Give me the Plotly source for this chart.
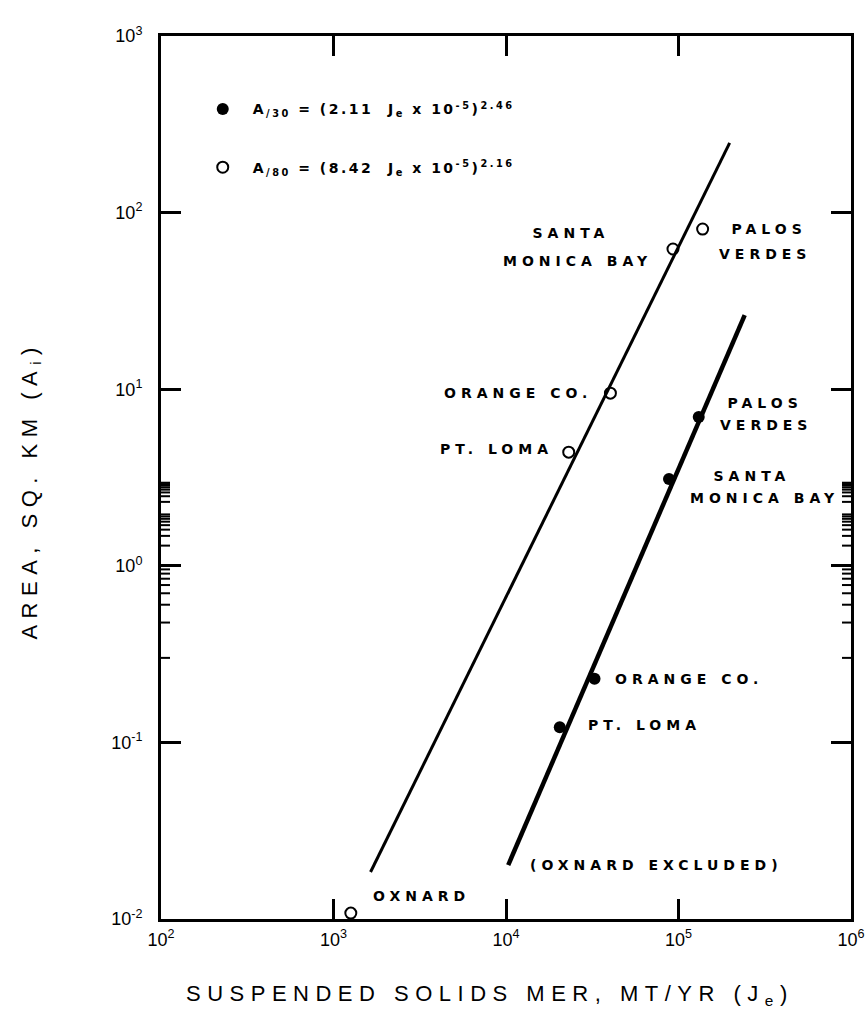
import math
import plotly.graph_objects as go

# ---------------- data ----------------
sites = ["PT. LOMA", "ORANGE CO.", "SANTA MONICA BAY", "PALOS VERDES"]
je_open = [2.31e4, 4.03e4, 9.29e4, 1.38e5]          # open circles (A/80)
area_open = [4.40, 9.5, 62.2, 80.7]
je_filled = [2.05e4, 3.26e4, 8.81e4, 1.31e5]        # filled circles (A/30)
area_filled = [0.122, 0.229, 3.10, 6.96]
oxnard_je = [1.26e3]
oxnard_area = [0.0108]
fit_open_je = [1.64e3, 1.98e5]
fit_open_area = [0.01845, 248.0]
fit_filled_je = [1.03e4, 2.42e5]
fit_filled_area = [0.0202, 26.3]

x_tickvals = [1e2, 1e3, 1e4, 1e5, 1e6]
x_ticktext = ["10<sup>2</sup>", "10<sup>3</sup>", "10<sup>4</sup>", "10<sup>5</sup>", "10<sup>6</sup>"]
y_tickvals = [1e-2, 1e-1, 1e0, 1e1, 1e2, 1e3]
y_ticktext = ["10<sup>-2</sup>", "10<sup>-1</sup>", "10<sup>0</sup>", "10<sup>1</sup>",
              "10<sup>2</sup>", "10<sup>3</sup>"]
x_minor = [k * 10 ** e for e in range(2, 6) for k in range(2, 10)]
y_minor = [k * 10.0 ** e for e in range(-2, 3) for k in range(2, 10)]

legend_filled = "A<sub>/30</sub> = (2.11  J<sub>e</sub> x 10<sup>-5</sup>)<sup>2.46</sup>"
legend_open = "A<sub>/80</sub> = (8.42  J<sub>e</sub> x 10<sup>-5</sup>)<sup>2.16</sup>"
x_title = "SUSPENDED SOLIDS MER, MT/YR (J<sub>e</sub>)"
y_title = "AREA, SQ. KM (A<sub>i</sub>)"

LABEL_FONT = dict(family="DejaVu Sans", size=14, color="black", weight="bold")
TITLE_FONT = dict(family="Liberation Sans", size=22, color="black")

W, H = 866, 1029
M = dict(l=161, r=15, t=36, b=110)
PLOT_W = W - M["l"] - M["r"]
PLOT_H = H - M["t"] - M["b"]
X_RANGE = [2, 6]
Y_RANGE = [-2, 3]
MINOR_LEN = 9  # px

L = math.log10
fig = go.Figure()

# fitted lines
fig.add_trace(go.Scatter(x=fit_open_je, y=fit_open_area, mode="lines",
                         line=dict(color="black", width=3), showlegend=False, hoverinfo="skip"))
fig.add_trace(go.Scatter(x=fit_filled_je, y=fit_filled_area, mode="lines",
                         line=dict(color="black", width=4.5), showlegend=False, hoverinfo="skip"))

# points
fig.add_trace(go.Scatter(x=je_filled, y=area_filled, mode="markers", name=legend_filled,
                         legendgroup="f",
                         marker=dict(symbol="circle", size=12, color="black")))
fig.add_trace(go.Scatter(x=je_open, y=area_open, mode="markers", name=legend_open,
                         legendgroup="o",
                         marker=dict(symbol="circle-open", size=11, color="black",
                                     line=dict(width=2, color="black"))))
fig.add_trace(go.Scatter(x=oxnard_je, y=oxnard_area, mode="markers", showlegend=False,
                         cliponaxis=False,
                         marker=dict(symbol="circle-open", size=11, color="black",
                                     line=dict(width=2, color="black"))))

ann = []


def lab(x, y, text, xanchor, xshift, yshift=0):
    ann.append(dict(x=L(x), y=L(y), xref="x", yref="y", text=text, showarrow=False,
                    xanchor=xanchor, yanchor="middle", xshift=xshift, yshift=yshift,
                    align=xanchor, font=LABEL_FONT))


# open-circle labels
lab(je_open[2], area_open[2], "SANTA", "center", -102, 16)
lab(je_open[2], area_open[2], "MONICA BAY", "center", -95, -12)
lab(je_open[3], area_open[3], "PALOS", "center", 66, 0)
lab(je_open[3], area_open[3], "VERDES", "center", 62, -25)
lab(je_open[1], area_open[1], sites[1], "right", -16, 0)
lab(je_open[0], area_open[0], sites[0], "right", -14, 3)
lab(oxnard_je[0], oxnard_area[0], "OXNARD", "left", 20, 17)
# filled-circle labels
lab(je_filled[3], area_filled[3], "PALOS", "center", 66, 14)
lab(je_filled[3], area_filled[3], "VERDES", "center", 67, -8)
lab(je_filled[2], area_filled[2], "SANTA", "center", 83, 3)
lab(je_filled[2], area_filled[2], "MONICA BAY", "center", 96, -19)
lab(je_filled[1], area_filled[1], sites[1], "left", 18, 0)
lab(je_filled[0], area_filled[0], sites[0], "left", 26, 2)
lab(fit_filled_je[0], fit_filled_area[0], "(OXNARD EXCLUDED)", "left", 20, 0)

# axis titles (as paper annotations for exact placement)
ann.append(dict(x=0.477, y=-0.086, xref="paper", yref="paper", text=x_title, showarrow=False,
                xanchor="center", yanchor="middle", font=TITLE_FONT))
ann.append(dict(x=-0.189, y=0.485, xref="paper", yref="paper", text=y_title, showarrow=False,
                xanchor="center", yanchor="middle", textangle=-90, font=TITLE_FONT))

# minor tick marks on all four sides (shape coordinates on log axes are in log units)
shapes = []
fx = MINOR_LEN / PLOT_W
fy = MINOR_LEN / PLOT_H
tick_line = dict(color="black", width=2)
for v in x_minor:
    for (a, b) in [(0, fy), (1 - fy, 1)]:
        shapes.append(dict(type="line", xref="x", yref="paper", x0=L(v), x1=L(v),
                           y0=a, y1=b, line=tick_line, layer="above"))
for v in y_minor:
    for (a, b) in [(0, fx), (1 - fx, 1)]:
        shapes.append(dict(type="line", xref="paper", yref="y", y0=L(v), y1=L(v),
                           x0=a, x1=b, line=tick_line, layer="above"))

axis_common = dict(
    type="log", showline=True, linewidth=3, linecolor="black", mirror="allticks",
    ticks="inside", ticklen=20, tickwidth=2.5, tickcolor="black", showgrid=False,
    zeroline=False, tickmode="array", automargin=False, ticklabeloverflow="allow",
    tickfont=dict(family="Liberation Sans", size=18, color="black"),
)

fig.update_layout(
    width=W, height=H,
    template="none",
    margin=M,
    paper_bgcolor="white", plot_bgcolor="white",
    annotations=ann,
    shapes=shapes,
    showlegend=True,
    legend=dict(x=0.046, y=0.935, xanchor="left", yanchor="top",
                bgcolor="rgba(0,0,0,0)", borderwidth=0, itemwidth=50,
                tracegroupgap=37, traceorder="grouped",
                font=dict(family="DejaVu Sans", size=14, color="black", weight="bold")),
    xaxis=dict(axis_common, range=X_RANGE, tickvals=x_tickvals, ticktext=x_ticktext,
               ticklabelstandoff=2),
    yaxis=dict(axis_common, range=Y_RANGE, tickvals=y_tickvals, ticktext=y_ticktext,
               ticklabelstandoff=12),
)

post = """
document.body.style.margin = '0';
var gd = document.getElementById('{plot_id}');
gd.querySelectorAll('.annotation-text').forEach(function(t){
  var s = t.textContent;
  t.style.letterSpacing = (s.indexOf('SUSPENDED') >= 0 || s.indexOf('AREA') >= 0) ? '6.5px' : '5px';
});
gd.querySelectorAll('.legendtext').forEach(function(t){ t.style.letterSpacing = '2.5px'; });
gd.querySelectorAll('.legend, .legend .scrollbox, .legend g').forEach(function(e){ e.removeAttribute('clip-path'); });
"""

fig.write_html("out.html", post_script=post, config={"displayModeBar": False})
